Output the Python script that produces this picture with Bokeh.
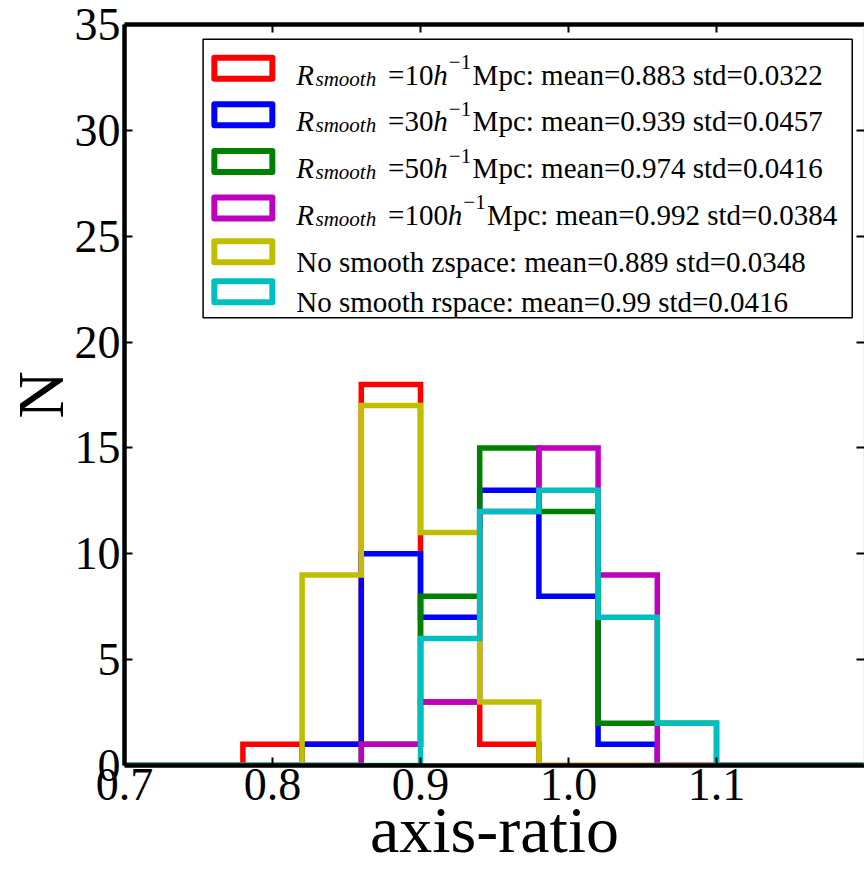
import numpy as np
from bokeh.plotting import figure
from bokeh.models import Label, FixedTicker, LinearAxis
from bokeh.embed import file_html
from bokeh.resources import INLINE

# Histogram bin edges (axis-ratio) and counts per bin for each sample
bin_edges = [0.70, 0.74, 0.78, 0.82, 0.86, 0.90, 0.94, 0.98, 1.02, 1.06, 1.10, 1.14, 1.18, 1.22]
counts_r10 = [0, 0, 1, 1, 18, 3, 1, 0, 0, 0, 0, 0, 0]
counts_r30 = [0, 0, 0, 1, 10, 7, 13, 8, 1, 0, 0, 0, 0]
counts_r50 = [0, 0, 0, 0, 1, 8, 15, 12, 2, 2, 0, 0, 0]
counts_r100 = [0, 0, 0, 0, 1, 3, 12, 15, 9, 0, 0, 0, 0]
counts_zspace = [0, 0, 0, 9, 17, 11, 3, 0, 0, 0, 0, 0, 0]
counts_rspace = [0, 0, 0, 0, 0, 6, 12, 13, 7, 2, 0, 0, 0]

# Legend statistics
smooth_scales = [10, 30, 50, 100]
no_smooth_spaces = ["zspace", "rspace"]
means = [0.883, 0.939, 0.974, 0.992, 0.889, 0.99]
stds = [0.0322, 0.0457, 0.0416, 0.0384, 0.0348, 0.0416]
colors = ["#ff0000", "#0000ff", "#008000", "#bf00bf", "#bfbf00", "#00bfbf"]

# Axis ticks
x_ticks = [0.7, 0.8, 0.9, 1.0, 1.1]
x_tick_labels = ["0.7", "0.8", "0.9", "1.0", "1.1"]
y_ticks = [0, 5, 10, 15, 20, 25, 30, 35]
y_tick_labels = ["0", "5", "10", "15", "20", "25", "30", "35"]

SERIF = "Liberation Serif"
W, H = 864, 869
FL, FR, FT, FB = 123, 864, 24, 765          # frame edges in canvas pixels
X_RANGE = (0.7, 1.2)
Y_RANGE = (0, 35)


def dx(px):
    """canvas pixel column -> data x"""
    return X_RANGE[0] + (px - FL) / (FR - FL) * (X_RANGE[1] - X_RANGE[0])


def dy(py):
    """canvas pixel row -> data y"""
    return Y_RANGE[0] + (FB - py) / (FB - FT) * (Y_RANGE[1] - Y_RANGE[0])


def step_outline(edges, counts):
    xs, ys = [edges[0]], [0]
    for i, c in enumerate(counts):
        xs += [edges[i], edges[i + 1]]
        ys += [c, c]
    xs.append(edges[-1])
    ys.append(0)
    return xs, ys


p = figure(width=W, height=H, x_range=X_RANGE, y_range=Y_RANGE,
           output_backend="svg", toolbar_location=None,
           min_border_left=FL, min_border_right=W - FR,
           min_border_top=FT, min_border_bottom=H - FB)
p.outline_line_color = None
p.grid.visible = False
p.background_fill_color = "white"
p.border_fill_color = "white"


def style_axis(ax, ticks, labels, show_labels, standoff):
    ax.ticker = FixedTicker(ticks=ticks)
    ax.axis_line_width = 4.5
    ax.axis_line_color = "black"
    ax.major_tick_in = 8
    ax.major_tick_out = 0
    ax.major_tick_line_width = 2
    ax.major_tick_line_color = "black"
    ax.minor_tick_line_color = None
    ax.major_label_standoff = standoff
    ax.major_label_text_font = SERIF
    ax.major_label_text_color = "black"
    if show_labels:
        ax.major_label_overrides = {t: l for t, l in zip(ticks, labels)}
        ax.major_label_text_font_size = "46px"
    else:
        ax.major_label_overrides = {t: "" for t in ticks}
        ax.major_label_text_font_size = "0px"


def style_title(ax, text, standoff):
    ax.axis_label = text
    ax.axis_label_text_font = SERIF
    ax.axis_label_text_font_size = "66px"
    ax.axis_label_text_font_style = "normal"
    ax.axis_label_text_color = "black"
    ax.axis_label_standoff = standoff


style_axis(p.xaxis[0], x_ticks, x_tick_labels, True, 3)
style_axis(p.yaxis[0], y_ticks, y_tick_labels, True, 4)
style_title(p.xaxis[0], "axis-ratio", -10)
style_title(p.yaxis[0], "N", -5)

top_axis = LinearAxis()
style_axis(top_axis, x_ticks, x_tick_labels, False, 0)
p.add_layout(top_axis, "above")
right_axis = LinearAxis()
style_axis(right_axis, y_ticks, y_tick_labels, False, 0)
right_axis.axis_line_color = "#c8c8c8"
right_axis.axis_line_width = 1.5
p.add_layout(right_axis, "right")

# Step histograms, drawn in legend order
series = [counts_r10, counts_r30, counts_r50, counts_r100, counts_zspace, counts_rspace]
for counts, color in zip(series, colors):
    xs, ys = step_outline(bin_edges, counts)
    p.line(xs, ys, line_color=color, line_width=5.5, line_join="miter")

# Legend frame and colour keys
p.quad(left=dx(201.7), right=dx(851.7), top=dy(38.7), bottom=dy(317.3),
       fill_color="white", line_color="black", line_width=1.5)
patch_rows = [67.7, 114.3, 160.9, 207.5, 251.3, 291.3]
text_rows = [74.3, 120.9, 167.5, 214.1, 261.7, 301.7]
p.rect(x=[dx(242)] * len(colors), y=[dy(r) for r in patch_rows], width=58, height=21,
       width_units="screen", height_units="screen", fill_color="white",
       line_color=colors, line_width=6, line_join="round")

# Times-metric advance widths (em) for the pieces laid out by hand
ITALIC_W = {"R": 0.611, "s": 0.389, "m": 0.722, "o": 0.5, "t": 0.278, "h": 0.5}
ROMAN_W = {"=": 0.564, "\u2212": 0.564, ".": 0.25}
ROMAN_W.update({str(d): 0.5 for d in range(10)})
F, FS = 29, 21


def text_w(s, table, size):
    return sum(table.get(ch, 0.5) for ch in s) * size


def add_text(px, py, text, size, italic=False):
    p.add_layout(Label(x=dx(px), y=dy(py), text=text, text_font=SERIF,
                       text_font_size=f"{size}px",
                       text_font_style="italic" if italic else "normal",
                       text_color="black", text_align="left",
                       text_baseline="alphabetic"))


X_TEXT = 295
for i, scale in enumerate(smooth_scales):
    base = text_rows[i]
    x = X_TEXT
    add_text(x, base, "R", F, italic=True)
    x += text_w("R", ITALIC_W, F) + 1.5
    add_text(x, base + 4, "smooth", FS, italic=True)
    x += text_w("smooth", ITALIC_W, FS) + 12
    eq = f"={scale}"
    add_text(x, base, eq, F)
    x += text_w(eq, ROMAN_W, F)
    add_text(x, base, "h", F, italic=True)
    x += text_w("h", ITALIC_W, F) + 1
    add_text(x, base - 12.5, "\u22121", FS)
    x += text_w("\u22121", ROMAN_W, FS) + 1.5
    add_text(x, base, f"Mpc: mean={means[i]} std={stds[i]}", F)

for j, space in enumerate(no_smooth_spaces):
    k = len(smooth_scales) + j
    add_text(X_TEXT, text_rows[k],
             f"No smooth {space}: mean={means[k]} std={stds[k]}", F)

open("out.html", "w").write(file_html(p, INLINE))
